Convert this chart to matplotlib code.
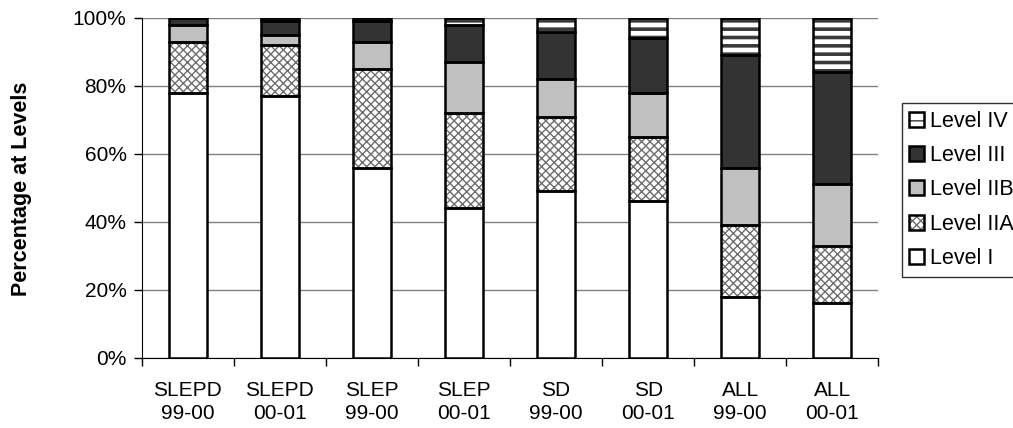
import matplotlib
matplotlib.use("Agg")
import matplotlib.pyplot as plt
from matplotlib.patches import Patch
from matplotlib.ticker import FixedLocator, PercentFormatter
import numpy as np

plt.rcParams['font.family'] = ['Liberation Sans', 'DejaVu Sans']

categories = ["SLEPD\n99-00", "SLEPD\n00-01", "SLEP\n99-00", "SLEP\n00-01",
              "SD\n99-00", "SD\n00-01", "ALL\n99-00", "ALL\n00-01"]
level_i = [78, 77, 56, 44, 49, 46, 18, 16]
level_iia = [15, 15, 29, 28, 22, 19, 21, 17]
level_iib = [5, 3, 8, 15, 11, 13, 17, 18]
level_iii = [2, 4, 6, 11, 14, 16, 33, 33]
level_iv = [0, 1, 1, 2, 4, 6, 11, 16]

# name, values, face, hatch colour, hatch, hatch linewidth
series = [
    ("Level I", level_i, "white", None, None, 0),
    ("Level IIA", level_iia, "white", "#6e6e6e", "xxxx", 1.0),
    ("Level IIB", level_iib, "#c0c0c0", None, None, 0),
    ("Level III", level_iii, "#333333", None, None, 0),
    ("Level IV", level_iv, "white", "#3a3a3a", "--", 2.6),
]

fig = plt.figure(figsize=(10.13, 4.28), dpi=100)
ax = fig.add_axes([0.140, 0.164, 0.727, 0.794])

x = np.arange(len(categories))
width = 0.41
bottom = np.zeros(len(categories))
handles = []
for name, vals, face, hcol, hatch, hlw in series:
    vals = np.array(vals, dtype=float)
    if hatch:
        with plt.rc_context({"hatch.linewidth": hlw}):
            bars = ax.bar(x, vals, width, bottom=bottom, facecolor=face,
                          edgecolor=hcol, hatch=hatch, linewidth=0, zorder=3)
            for b in bars:
                if hasattr(b, "set_hatch_linewidth"):
                    b.set_hatch_linewidth(hlw)
            h = Patch(facecolor=face, edgecolor=hcol, hatch=hatch, linewidth=0)
    else:
        ax.bar(x, vals, width, bottom=bottom, facecolor=face, linewidth=0, zorder=3)
        h = Patch(facecolor=face, linewidth=0)
    # black outline round every segment
    ax.bar(x, vals, width, bottom=bottom, fill=False, edgecolor="black",
           linewidth=1.8, zorder=4)
    border = Patch(fill=False, edgecolor="black", linewidth=1.8)
    handles.append(((h, border), name))
    bottom += vals

ax.set_ylim(0, 100)
ax.set_xlim(-0.5, len(categories) - 0.5)
ax.yaxis.set_major_locator(FixedLocator([0, 20, 40, 60, 80, 100]))
ax.yaxis.set_major_formatter(PercentFormatter(decimals=0))
ax.grid(axis="y", color="#808080", linewidth=1, zorder=0)
ax.set_axisbelow(True)

ax.set_xticks(x)
ax.set_xticklabels(categories, linespacing=1.25)
ax.set_xticks(np.arange(-0.5, len(categories), 1), minor=True)
ax.tick_params(axis="x", which="major", length=0, labelsize=15, pad=17)
ax.tick_params(axis="x", which="minor", length=6, width=1, direction="out")
ax.tick_params(axis="y", length=6, width=1, labelsize=15, pad=5)

for s in ["top", "right"]:
    ax.spines[s].set_visible(False)
ax.spines["left"].set_color("black")
ax.spines["bottom"].set_color("black")

fig.text(0.021, 0.56, "Percentage at Levels", rotation=90, fontsize=15.5,
         fontweight="bold", ha="center", va="center")

hs = [h for h, n in handles][::-1]
ns = [n for h, n in handles][::-1]
leg = ax.legend(hs, ns, loc="upper left",
                bbox_to_anchor=(0.890, 0.759), bbox_transform=fig.transFigure,
                fontsize=15.5, frameon=True, fancybox=False, handlelength=0.7,
                handleheight=0.7, handletextpad=0.25, labelspacing=0.62,
                borderpad=0.35, borderaxespad=0)
leg.get_frame().set_edgecolor("black")
leg.get_frame().set_linewidth(1)

fig.savefig("out.png", dpi=100)
